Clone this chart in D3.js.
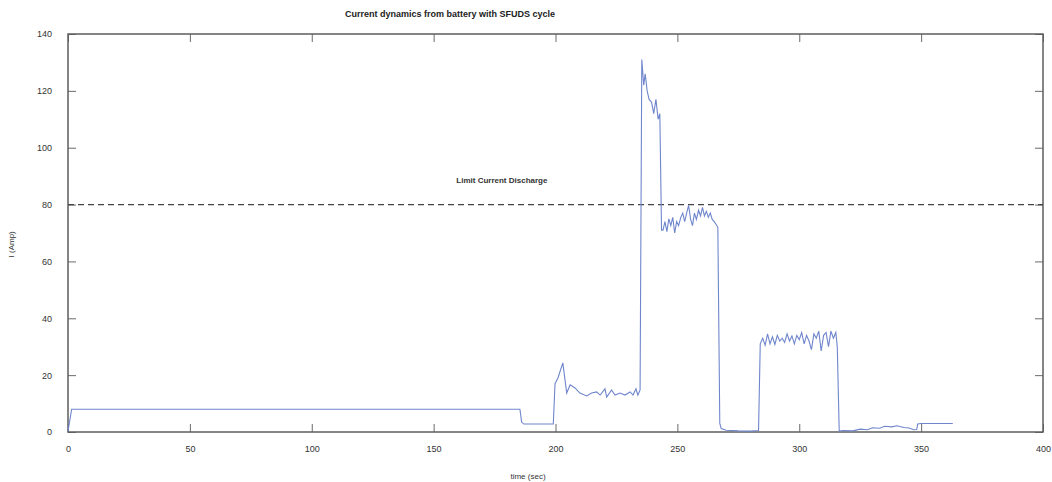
<!DOCTYPE html>
<html>
<head>
<meta charset="utf-8">
<title>Current dynamics</title>
<script src="https://cdn.jsdelivr.net/npm/d3@7"></script>
<style>
  html, body { margin: 0; background: #fff; }
  svg { display: block; font-family: "Liberation Sans", Arial, sans-serif; }
  .axis path { display: none; }
  .axis line { stroke: #6a6a6a; }
  .axis text { fill: #333; font-size: 9px; }
</style>
</head>
<body>
<svg width="1052" height="482"></svg>
<script>
// time (sec) and current (Amp)
var time = [0, 1.5, 184, 185.4, 186.1, 187, 199.1, 199.8, 201, 203, 204.6, 206, 208, 210, 212.8,
  214.8, 216.9, 218.3, 220.3, 221, 223, 224.4, 226.5, 228.5, 230.6, 231.8, 233, 233.8, 234.7,
  235.4, 236.2, 236.8, 237.6, 238.4, 239.4, 240.3, 241.2, 242.1, 242.8, 243.5,
  244.1, 244.9, 245.7, 246.5, 247.3, 248.1, 248.9, 249.7, 250.5, 251.4, 252.2, 253.0, 253.8,
  254.6, 255.4, 256.2, 257.0, 257.8, 258.7, 259.5, 260.3, 261.1, 261.9, 262.7, 263.5, 264.3,
  265.1, 265.9, 266.6, 267.4, 268, 270, 275, 280, 283.3,
  284, 285, 286, 287, 288, 289, 290, 291, 292, 293, 294, 295, 296, 297, 298, 299, 300, 301,
  302, 303, 304, 305, 306, 307, 308, 309, 310, 311, 312, 313, 314, 315, 315.6, 316.4,
  318, 322, 325, 328, 330, 333, 335, 338, 340, 343, 345, 347, 348.2, 348.6, 350, 363];
var current = [0.3, 8, 8, 8, 3.5, 2.8, 2.8, 17, 19, 24.3, 13.7, 16.6, 15.5, 13.7, 12.7,
  13.7, 14.1, 13, 15.2, 12.3, 14.8, 13, 13.7, 13, 14.1, 13, 15.2, 13, 14.8,
  131, 122, 126, 120, 117, 116, 112, 117, 110, 112, 71,
  71, 74, 70.5, 75, 72.6, 75.5, 70, 74, 72.6, 75.5, 77, 74, 77,
  79.7, 75, 72.6, 77, 74.8, 78, 76, 79, 76, 77.6, 75.5, 77, 74.8,
  74, 73, 72, 3, 1.2, 0.6, 0.4, 0.3, 0.5,
  31, 33, 30.5, 34.5, 31, 33.5, 30.8, 34, 32, 33, 31.5, 34.5, 32, 33.8, 31, 34, 32.5, 35,
  31, 34, 32, 29, 34.5, 33, 35.5, 28.5, 34, 35, 30, 35.5, 33, 35, 30, 0.3,
  0.5, 0.4, 1, 0.8, 1.5, 1.3, 2, 1.8, 2.2, 1.6, 1.4, 0.8, 0.9, 2.8, 3, 3];

var xTicks = [0, 50, 100, 150, 200, 250, 300, 350, 400];
var yTicks = [0, 20, 40, 60, 80, 100, 120, 140];
var limitValue = 80;

var svg = d3.select("svg"),
    margin = {top: 34, right: 9, bottom: 50, left: 68},
    width = +svg.attr("width") - margin.left - margin.right,
    height = +svg.attr("height") - margin.top - margin.bottom;

var x = d3.scaleLinear().domain([0, 400]).range([0, width]),
    y = d3.scaleLinear().domain([0, 140]).range([height, 0]);

var g = svg.append("g")
    .attr("transform", "translate(" + margin.left + "," + margin.top + ")");

// ticks point inwards on all four sides
g.append("g").attr("class", "axis")
    .attr("transform", "translate(0," + height + ")")
    .call(d3.axisBottom(x).tickValues(xTicks).tickSizeInner(-8).tickSizeOuter(0).tickPadding(14));
g.append("g").attr("class", "axis")
    .call(d3.axisTop(x).tickValues(xTicks).tickSizeInner(-8).tickSizeOuter(0).tickFormat(""));
g.append("g").attr("class", "axis")
    .call(d3.axisLeft(y).tickValues(yTicks).tickSizeInner(-8).tickSizeOuter(0).tickPadding(16));
g.append("g").attr("class", "axis")
    .attr("transform", "translate(" + width + ",0)")
    .call(d3.axisRight(y).tickValues(yTicks).tickSizeInner(-8).tickSizeOuter(0).tickFormat(""));

g.append("rect")
    .attr("width", width)
    .attr("height", height)
    .attr("fill", "none")
    .attr("stroke", "#5e5e5e")
    .attr("stroke-width", 1.5);

// limit line
g.append("line")
    .attr("x1", 0).attr("x2", width)
    .attr("y1", y(limitValue)).attr("y2", y(limitValue))
    .attr("stroke", "#444")
    .attr("stroke-width", 1.3)
    .attr("stroke-dasharray", "6,4");

g.append("text")
    .attr("x", x(178))
    .attr("y", y(limitValue) - 22)
    .attr("text-anchor", "middle")
    .attr("font-size", "8px")
    .attr("font-weight", "bold")
    .attr("fill", "#333")
    .text("Limit Current Discharge");

var line = d3.line()
    .x(function(d, i) { return x(time[i]); })
    .y(function(d) { return y(d); });

g.append("path")
    .datum(current)
    .attr("fill", "none")
    .attr("stroke", "#6f86cc")
    .attr("stroke-width", 1.1)
    .attr("d", line);

// title and axis labels
svg.append("text")
    .attr("x", 450)
    .attr("y", 17)
    .attr("text-anchor", "middle")
    .attr("font-size", "9px")
    .attr("font-weight", "bold")
    .attr("fill", "#222")
    .text("Current dynamics from battery with SFUDS cycle");

svg.append("text")
    .attr("x", 528)
    .attr("y", 479)
    .attr("text-anchor", "middle")
    .attr("font-size", "8px")
    .attr("fill", "#333")
    .text("time (sec)");

svg.append("text")
    .attr("transform", "translate(14," + (margin.top + y(66)) + ") rotate(-90)")
    .attr("text-anchor", "middle")
    .attr("font-size", "8px")
    .attr("fill", "#333")
    .text("I (Amp)");
</script>
</body>
</html>
